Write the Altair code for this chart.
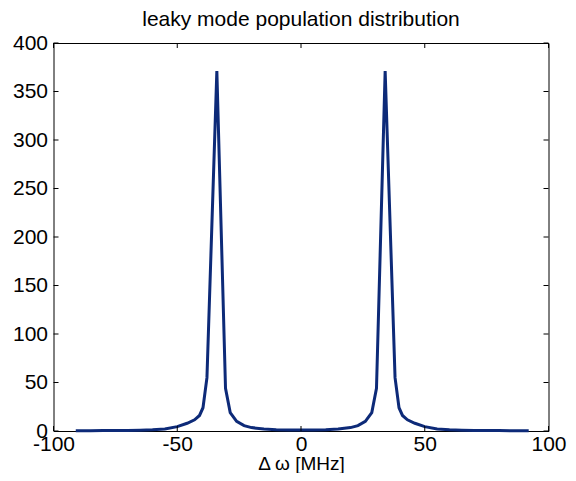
import altair as alt
import pandas as pd

# Data
freq = [-91, -85, -80, -75, -70, -65, -60, -55, -50, -46, -43, -41, -39.6, -38, -34,
        -30.5, -28.6, -26, -23, -20, -15, -10, -5, 0,
        5, 10, 15, 20, 23, 26, 28.6, 30.5, 34, 38, 39.6, 41, 43, 46, 50,
        55, 60, 65, 70, 75, 80, 85, 92]
pop = [0.2, 0.3, 0.4, 0.5, 0.6, 0.9, 1.3, 2.0, 4.5, 8.0, 11.5, 16.0, 24.0, 55.0, 371.0,
       44.0, 19.0, 10.0, 5.5, 3.5, 2.0, 1.4, 1.1, 1.0,
       1.1, 1.4, 2.0, 3.5, 5.5, 10.0, 19.0, 44.0, 371.0, 55.0, 24.0, 16.0, 11.5, 8.0, 4.5,
       2.0, 1.3, 0.9, 0.6, 0.5, 0.4, 0.3, 0.2]
x_ticks = [-100, -50, 0, 50, 100]
y_ticks = [0, 50, 100, 150, 200, 250, 300, 350, 400]
title_text = "leaky mode population distribution"

W, H = 495, 388
TL = 5
FONT = "Liberation Sans"
FS = 21

df = pd.DataFrame({"f": freq, "p": pop})
xt = pd.DataFrame({"t": x_ticks})
yt = pd.DataFrame({"t": y_ticks})

xscale = alt.Scale(domain=[-100, 100], nice=False, zero=False)
yscale = alt.Scale(domain=[0, 400], nice=False)

xaxis = alt.Axis(values=x_ticks, tickSize=0, domain=False, grid=False,
                 labelFontSize=FS, labelFont=FONT, labelColor="black",
                 labelPadding=2, labelFlush=False, labelOverlap=False,
                 labelExpr="toString(datum.value)",
                 title="Δ ω [MHz]", titleFontSize=19, titleFont=FONT,
                 titleFontWeight="normal", titleColor="black",
                 titleY=42, titleBaseline="bottom")
yaxis = alt.Axis(values=y_ticks, tickSize=0, domain=False, grid=False,
                 labelFontSize=FS, labelFont=FONT, labelColor="black",
                 labelPadding=6, labelFlush=False, labelOverlap=False, title=None)

line = alt.Chart(df).mark_line(color="#0d2a78", strokeWidth=3).encode(
    x=alt.X("f:Q", scale=xscale, axis=xaxis),
    y=alt.Y("p:Q", scale=yscale, axis=yaxis),
)

bottom_ticks = alt.Chart(xt).mark_rule(color="black", strokeWidth=1).encode(
    x=alt.X("t:Q", scale=xscale), y=alt.value(H), y2=alt.value(H - TL))
top_ticks = alt.Chart(xt).mark_rule(color="black", strokeWidth=1).encode(
    x=alt.X("t:Q", scale=xscale), y=alt.value(0), y2=alt.value(TL))
left_ticks = alt.Chart(yt).mark_rule(color="black", strokeWidth=1).encode(
    y=alt.Y("t:Q", scale=yscale), x=alt.value(0), x2=alt.value(TL))
right_ticks = alt.Chart(yt).mark_rule(color="black", strokeWidth=1).encode(
    y=alt.Y("t:Q", scale=yscale), x=alt.value(W), x2=alt.value(W - TL))

title = alt.Chart(pd.DataFrame({"s": [title_text]})).mark_text(
    font=FONT, fontSize=FS, color="black", align="center", baseline="middle"
).encode(x=alt.value(W / 2), y=alt.value(-23), text="s:N")

chart = alt.layer(line, bottom_ticks, top_ticks, left_ticks, right_ticks, title).properties(
    width=W, height=H,
    background="white",
    autosize=alt.AutoSizeParams(type="none"),
    padding={"left": 45.5, "top": 35, "right": 19.5, "bottom": 42},
).configure_view(stroke="black", strokeWidth=1)

chart.save("out.html", embed_options={"renderer": "svg", "actions": False})
